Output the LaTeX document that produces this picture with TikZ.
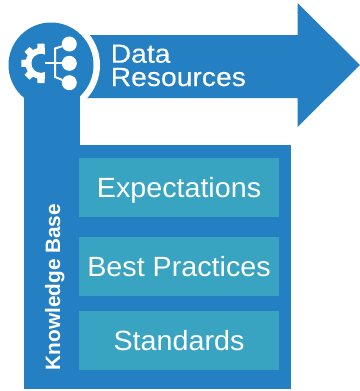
\documentclass[tikz,border=0pt]{standalone}
\usepackage{fontspec}
\setmainfont{Liberation Sans}
\definecolor{kbblue}{HTML}{2580C3}
\definecolor{kbteal}{HTML}{39A4C1}
\tikzset{
  tealbox/.style={fill=kbteal,draw=none,minimum width=200bp,minimum height=59bp,inner sep=0pt,anchor=north west},
  boxtext/.style={text=white,font=\fontsize{27.8bp}{30bp}\selectfont\addfontfeature{FakeStretch=1.032},inner sep=0pt,anchor=base},
  titletext/.style={text=white,font=\fontsize{26.2bp}{28bp}\selectfont\addfontfeature{FakeStretch=1.08,FakeBold=0.2},anchor=base west,inner sep=0pt},
  iconline/.style={draw=white,line width=2bp},
  icondot/.style={fill=white,draw=none,circle,minimum size=15bp,inner sep=0pt}
}
\begin{document}
\begin{tikzpicture}[x=1bp,y=-1bp]
\useasboundingbox (0,0) rectangle (360,391);
\fill[kbblue] (24,60) rectangle (79.5,389);
\fill[kbblue] (79,145) rectangle (291,389);
\fill[kbblue] (85,35) -- (297.5,35) -- (297.5,3) -- (360,65) -- (297.5,127) -- (297.5,98) -- (85,98) -- cycle;
\fill[white] (51,65) circle (49);
\fill[kbblue] (24,65) rectangle (79.5,120);
\fill[kbblue] (51,65) circle (42.5);
\node[tealbox] (exp) at (79,158) {};
\node[tealbox] (best) at (79,237) {};
\node[tealbox] (std) at (79,311) {};
\node[boxtext] (exptxt) at (179,197.5) {Expectations};
\node[boxtext] (besttxt) at (179,276.7) {Best Practices};
\node[boxtext] (stdtxt) at (179,350.7) {Standards};
\node[text=white,font=\bfseries\fontsize{20.8bp}{22bp}\selectfont,rotate=90,anchor=base west,inner sep=0pt] (kb) at (60,370.5) {Knowledge Base};
\node[titletext] (t1) at (110.5,62.7) {Data};
\node[titletext] (t2) at (110.5,86) {Resources};
% icon
\coordinate (gc) at (41,63.3);
\foreach \a in {0,45,...,315}
  \fill[white] ([shift={(\a-16:14)}]gc) -- ([shift={(\a-10:20)}]gc) -- ([shift={(\a+10:20)}]gc) -- ([shift={(\a+16:14)}]gc) -- cycle;
\fill[white] (gc) circle (15.5);
\fill[kbblue] (gc) circle (9.5);
\fill[kbblue] (45,38) rectangle (68,90);
\node[icondot] (n1) at (69.3,44) {};
\node[icondot] (n2) at (69.3,63.3) {};
\node[icondot] (n3) at (69.3,82.7) {};
\coordinate (up) at (55,48.5);
\coordinate (dn) at (55,77);
\coordinate (st) at (44.5,63.3);
\draw[iconline] (n1) -- (up) -- (dn) -- (n3);
\draw[iconline] (st) -- (n2);
\end{tikzpicture}
\end{document}
